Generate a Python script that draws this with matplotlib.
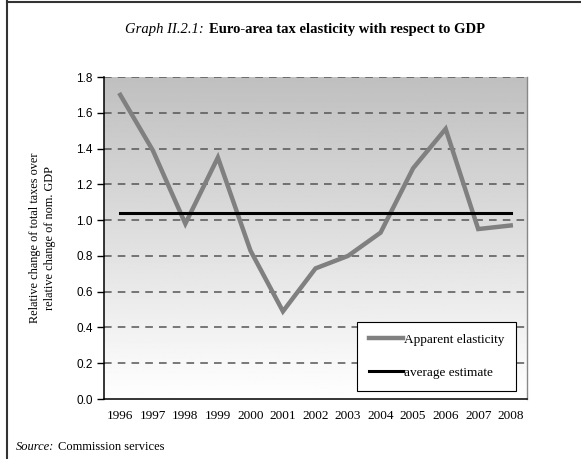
import numpy as np
import matplotlib.pyplot as plt
from matplotlib.lines import Line2D

years = ['1996', '1997', '1998', '1999', '2000', '2001', '2002',
         '2003', '2004', '2005', '2006', '2007', '2008']
apparent = [1.70, 1.39, 0.98, 1.35, 0.83, 0.49, 0.73, 0.80, 0.93, 1.29, 1.51, 0.95, 0.97]
average = [1.04] * len(years)
yticks = [0.0, 0.2, 0.4, 0.6, 0.8, 1.0, 1.2, 1.4, 1.6, 1.8]

W, H = 581, 459
fig = plt.figure(figsize=(W / 100, H / 100), dpi=100)
ax = fig.add_axes([104 / W, (H - 399) / H, (527 - 104) / W, (399 - 77) / H])

x = np.arange(len(years))

# grey-to-white background of the plot area
grad = np.linspace(0.75, 1.0, 256).reshape(-1, 1)
ax.imshow(grad, cmap='gray', vmin=0, vmax=1, aspect='auto',
          extent=[-0.5, len(years) - 0.5, 0, 1.8], origin='upper', zorder=0)

for v in yticks[1:]:
    ax.axhline(v, color='#555555', linestyle=(0, (5, 4)), linewidth=1.1, zorder=1)

ax.plot(x, apparent, color='#808080', linewidth=3.2, label='Apparent elasticity',
        solid_joinstyle='miter', zorder=3)
ax.plot(x, average, color='black', linewidth=2.2, label='average estimate', zorder=3)

ax.set_xlim(-0.5, len(years) - 0.5)
ax.set_ylim(0, 1.8)
ax.set_xticks(x, years, family='Liberation Serif', fontsize=9.5)
ax.set_yticks(yticks, [f'{v:.1f}' for v in yticks], family='Liberation Sans', fontsize=8.5)
ax.tick_params(axis='x', length=0, pad=8)
ax.tick_params(axis='y', length=5, width=1, direction='out', pad=3)

ax.spines['top'].set_visible(False)
ax.spines['right'].set_color('#888888')
ax.spines['right'].set_linewidth(1)
for s in ['left', 'bottom']:
    ax.spines[s].set_color('black')
    ax.spines[s].set_linewidth(1.1)

ax.set_ylabel('Relative change of total taxes over\nrelative change of nom. GDP',
              family='Liberation Serif', fontsize=8.8, labelpad=15, linespacing=1.3)

leg = ax.legend(loc='lower right', bbox_to_anchor=(0.975, 0.025), frameon=True,
                fancybox=False, edgecolor='black', facecolor='white', framealpha=1,
                prop={'family': 'Liberation Serif', 'size': 9.5},
                handlelength=2.6, handletextpad=0.1, labelspacing=1.6,
                borderpad=0.9, borderaxespad=0)
leg.get_frame().set_linewidth(0.8)

ty = (H - 30) / H
fig.text(204 / W, ty, 'Graph II.2.1:', ha='right', va='center',
         family='Liberation Serif', style='italic', fontsize=10.5)
fig.text(209 / W, ty, 'Euro-area tax elasticity with respect to GDP',
         ha='left', va='center', family='Liberation Serif', weight='bold', fontsize=10.5)

fig.text(16 / W, (H - 447) / H, 'Source:', ha='left', va='center',
         family='Liberation Serif', style='italic', fontsize=9)
fig.text(58 / W, (H - 447) / H, 'Commission services', ha='left', va='center',
         family='Liberation Serif', fontsize=9)

# outer frame of the box
fig.add_artist(Line2D([7 / W, 7 / W], [0, 1 - 1 / H], transform=fig.transFigure,
                      color='#333333', linewidth=1.5))
fig.add_artist(Line2D([7 / W, 1], [1 - 1.5 / H, 1 - 1.5 / H], transform=fig.transFigure,
                      color='#333333', linewidth=1.5))

fig.savefig('out.png', dpi=100)
